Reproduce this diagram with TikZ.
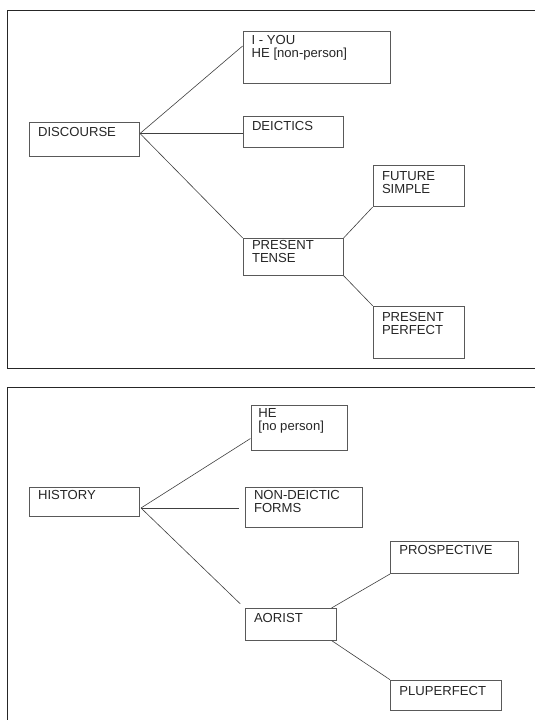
\documentclass[tikz,border=0pt]{standalone}
\usepackage{fontspec}
\setmainfont{Liberation Sans}
\begin{document}
\begin{tikzpicture}[x=1pt,y=-1pt,
  box/.style={draw=black!65,line width=0.8pt,inner sep=0pt,anchor=north west},
  lbl/.style={anchor=north west,inner sep=0pt,align=left,font=\fontsize{13.1}{13}\selectfont,text=black!85},
  conn/.style={draw=black!75,line width=0.6pt},
  frame/.style={draw=black!85,line width=1.2pt}]
\useasboundingbox (0,0) rectangle (535,720);
\fill[white] (0,0) rectangle (535,720);
% frames
\draw[frame] (535,10.2) -- (7.7,10.2) -- (7.7,368.2) -- (535,368.2);
\draw[frame] (535,387.3) -- (7.7,387.3) -- (7.7,720);
% top diagram boxes
\node[box,minimum width=110.5pt,minimum height=33.8pt] (disc) at (28.7,122.3) {};
\node[box,minimum width=147pt,minimum height=52pt] (iyou) at (242.6,30.8) {};
\node[box,minimum width=100.3pt,minimum height=30.7pt] (deic) at (242.6,116.1) {};
\node[box,minimum width=91pt,minimum height=41pt] (fut) at (372.6,165.3) {};
\node[box,minimum width=100.3pt,minimum height=37.1pt] (pres) at (242.6,237.9) {};
\node[box,minimum width=91pt,minimum height=52.2pt] (perf) at (372.6,305.7) {};
% top labels
\node[lbl] (tdisc) at (37.9,127.4) {DISCOURSE};
\node[lbl] (tiyou) at (251.5,34.8) {I - YOU\\HE [non-person]};
\node[lbl] (tdeic) at (251.8,121.3) {DEICTICS};
\node[lbl] (tfut) at (381.8,171.4) {FUTURE\\SIMPLE};
\node[lbl] (tpres) at (251.8,240.6) {PRESENT\\TENSE};
\node[lbl] (tperf) at (381.8,311.9) {PRESENT\\PERFECT};
% top connectors
\coordinate (dsrc) at ([yshift=-11.2pt]disc.north east);
\draw[conn] (dsrc) -- ([yshift=-15.2pt]iyou.north west);
\draw[conn] (dsrc) -- (deic.west |- dsrc);
\draw[conn] (dsrc) -- (pres.north west);
\draw[conn] (pres.north east) -- (fut.south west);
\draw[conn] (pres.south east) -- (perf.north west);
% bottom diagram boxes
\node[box,minimum width=110.5pt,minimum height=29.6pt] (hist) at (28.7,486.6) {};
\node[box,minimum width=96.3pt,minimum height=45pt] (he) at (250.5,404.5) {};
\node[box,minimum width=117.7pt,minimum height=40.2pt] (nond) at (244.6,486.6) {};
\node[box,minimum width=91.1pt,minimum height=31.7pt] (aor) at (244.6,608) {};
\node[box,minimum width=127.9pt,minimum height=32.7pt] (prosp) at (390,540.5) {};
\node[box,minimum width=110.5pt,minimum height=30.7pt] (plup) at (390,679.7) {};
% bottom labels
\node[lbl] (thist) at (37.9,490.6) {HISTORY};
\node[lbl] (the) at (258.2,407.8) {HE\\{[no person]}};
\node[lbl] (tnond) at (253.8,490.6) {NON-DEICTIC\\FORMS};
\node[lbl] (tprosp) at (399.2,545.6) {PROSPECTIVE};
\node[lbl] (taor) at (253.8,613.1) {AORIST};
\node[lbl] (tplup) at (399.2,685.8) {PLUPERFECT};
% bottom connectors
\coordinate (hsrc) at ([yshift=-21.4pt,xshift=1pt]hist.north east);
\draw[conn] (hsrc) -- ([yshift=-34pt]he.north west);
\draw[conn,shorten >=6pt] (hsrc) -- (nond.west |- hsrc);
\draw[conn,shorten >=6pt] (hsrc) -- (aor.north west);
\draw[conn] ([xshift=-5pt]aor.north east) -- (prosp.south west);
\draw[conn] ([xshift=-5pt]aor.south east) -- (plup.north west);
\end{tikzpicture}
\end{document}
